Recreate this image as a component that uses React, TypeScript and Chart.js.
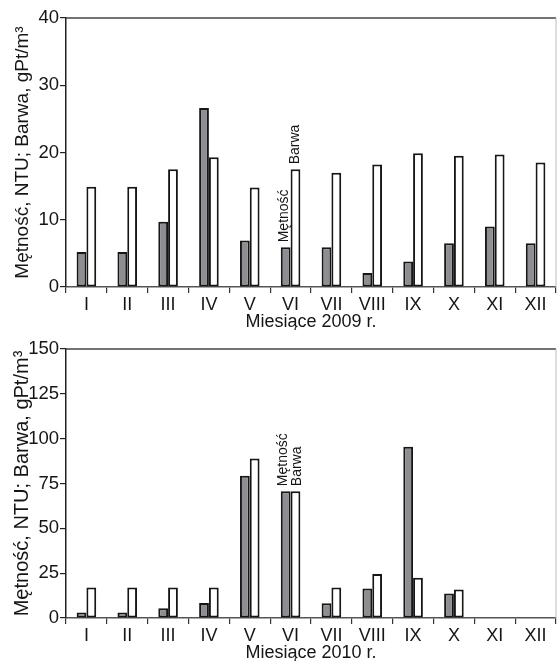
import React, { useEffect, useRef } from "react";
import { Chart, registerables } from "chart.js";

Chart.register(...registerables);

const months = ["I", "II", "III", "IV", "V", "VI", "VII", "VIII", "IX", "X", "XI", "XII"];
const seriesNames = ["Mętność", "Barwa"];
const turbidity2009 = [5.2, 5.2, 9.7, 26.6, 6.9, 5.9, 5.9, 2.1, 3.8, 6.5, 9.0, 6.5];
const colour2009 = [14.9, 14.9, 17.5, 19.3, 14.8, 17.5, 17.0, 18.2, 19.9, 19.5, 19.7, 18.5];
const turbidity2010 = [3.0, 3.0, 5.4, 8.4, 79.3, 70.7, 8.2, 16.4, 95.5, 13.6, null, null];
const colour2010 = [17, 17, 17, 17, 89, 70.7, 17, 24.5, 22.4, 15.9, null, null];
const yTitle = "Mętność, NTU; Barwa, gPt/m³";
const xTitle2009 = "Miesiące 2009 r.";
const xTitle2010 = "Miesiące 2010 r.";
const yMax2009 = 40;
const yStep2009 = 10;
const yMax2010 = 150;
const yStep2010 = 25;
const labelIndex = 5;

const FONT = "'Liberation Sans', Arial, sans-serif";
const INK = "#151515";

const framePlugin = {
  id: "frame",
  afterDraw(chart: any) {
    const { ctx, chartArea } = chart;
    ctx.save();
    ctx.lineWidth = 1.5;
    ctx.strokeStyle = "#444";
    ctx.beginPath();
    ctx.moveTo(chartArea.left, chartArea.top);
    ctx.lineTo(chartArea.right, chartArea.top);
    ctx.stroke();
    ctx.lineWidth = 1;
    ctx.strokeStyle = "#bbb";
    ctx.beginPath();
    ctx.moveTo(chartArea.right, chartArea.top);
    ctx.lineTo(chartArea.right, chartArea.bottom);
    ctx.stroke();
    ctx.restore();
  },
};

const barLabelPlugin = {
  id: "barLabels",
  afterDatasetsDraw(chart: any, _args: any, opts: any) {
    const { ctx } = chart;
    ctx.save();
    ctx.fillStyle = INK;
    ctx.font = `${opts.size || 14}px ${FONT}`;
    ctx.textAlign = "left";
    ctx.textBaseline = "middle";
    chart.data.datasets.forEach((ds: any, i: number) => {
      const el = chart.getDatasetMeta(i).data[opts.index];
      if (!el) return;
      const dx = (opts.dx && opts.dx[i]) || 0;
      ctx.save();
      ctx.translate(el.x + dx, el.y - (opts.gap || 5));
      ctx.rotate(-Math.PI / 2);
      ctx.fillText(ds.label, 0, 0);
      ctx.restore();
    });
    ctx.restore();
  },
};

function makeConfig(
  a: (number | null)[],
  b: (number | null)[],
  yMax: number,
  yStep: number,
  xTitle: string,
  yTitleSize: number,
  yTitlePad: number,
  labelDx: number[],
  topPad: number
): any {
  return {
    type: "bar",
    data: {
      labels: months,
      datasets: [
        {
          label: seriesNames[0],
          data: a,
          backgroundColor: "#8d8e92",
          borderColor: "#161616",
          borderWidth: 2,
          borderSkipped: false,
          categoryPercentage: 0.48,
          barPercentage: 1.0,
        },
        {
          label: seriesNames[1],
          data: b,
          backgroundColor: "#ffffff",
          borderColor: "#161616",
          borderWidth: 2,
          borderSkipped: false,
          categoryPercentage: 0.48,
          barPercentage: 1.0,
        },
      ],
    },
    options: {
      responsive: false,
      animation: false,
      devicePixelRatio: 1,
      layout: { padding: { top: topPad, right: 2, left: 0, bottom: 0 } },
      plugins: {
        legend: { display: false },
        tooltip: { enabled: false },
        barLabels: { index: labelIndex, dx: labelDx, gap: 5, size: 14 },
      },
      scales: {
        x: {
          grid: {
            display: true,
            drawOnChartArea: false,
            drawTicks: true,
            tickLength: 6,
            color: "#333",
            lineWidth: 1.2,
          },
          border: { display: true, color: "#555", width: 1.5 },
          ticks: { color: INK, font: { family: FONT, size: 18 }, padding: 1 },
          title: {
            display: true,
            text: xTitle,
            color: INK,
            font: { family: FONT, size: 18, lineHeight: 0.9 },
            padding: { top: 0, bottom: 0 },
          },
          afterFit(scale: any) {
            scale.height = 43;
          },
        },
        y: {
          min: 0,
          max: yMax,
          ticks: {
            stepSize: yStep,
            color: INK,
            font: { family: FONT, size: 18.5 },
            padding: 1,
          },
          grid: {
            display: true,
            drawOnChartArea: false,
            drawTicks: true,
            tickLength: 6,
            color: "#222",
            lineWidth: 1.2,
          },
          border: { display: true, color: "#222", width: 1.5 },
          title: {
            display: true,
            text: yTitle,
            color: INK,
            font: { family: FONT, size: yTitleSize, lineHeight: 1.2 },
            padding: { top: yTitlePad, bottom: 0 },
          },
          afterFit(scale: any) {
            scale.width = 66;
          },
        },
      },
    },
    plugins: [framePlugin, barLabelPlugin],
  };
}

export default function App() {
  const topRef = useRef<HTMLCanvasElement | null>(null);
  const botRef = useRef<HTMLCanvasElement | null>(null);

  useEffect(() => {
    document.body.style.margin = "0";
    const c1 = new Chart(
      topRef.current as HTMLCanvasElement,
      makeConfig(turbidity2009, colour2009, yMax2009, yStep2009, xTitle2009, 19, 11, [-2, 0], 18)
    );
    const c2 = new Chart(
      botRef.current as HTMLCanvasElement,
      makeConfig(turbidity2010, colour2010, yMax2010, yStep2010, xTitle2010, 20, 10, [-3, 2], 19)
    );
    return () => {
      c1.destroy();
      c2.destroy();
    };
  }, []);

  return (
    <div style={{ width: 558, height: 661, background: "#fff", position: "relative" }}>
      <canvas ref={topRef} width={558} height={330} style={{ display: "block", width: 558, height: 330 }} />
      <canvas ref={botRef} width={558} height={331} style={{ display: "block", width: 558, height: 331 }} />
    </div>
  );
}
